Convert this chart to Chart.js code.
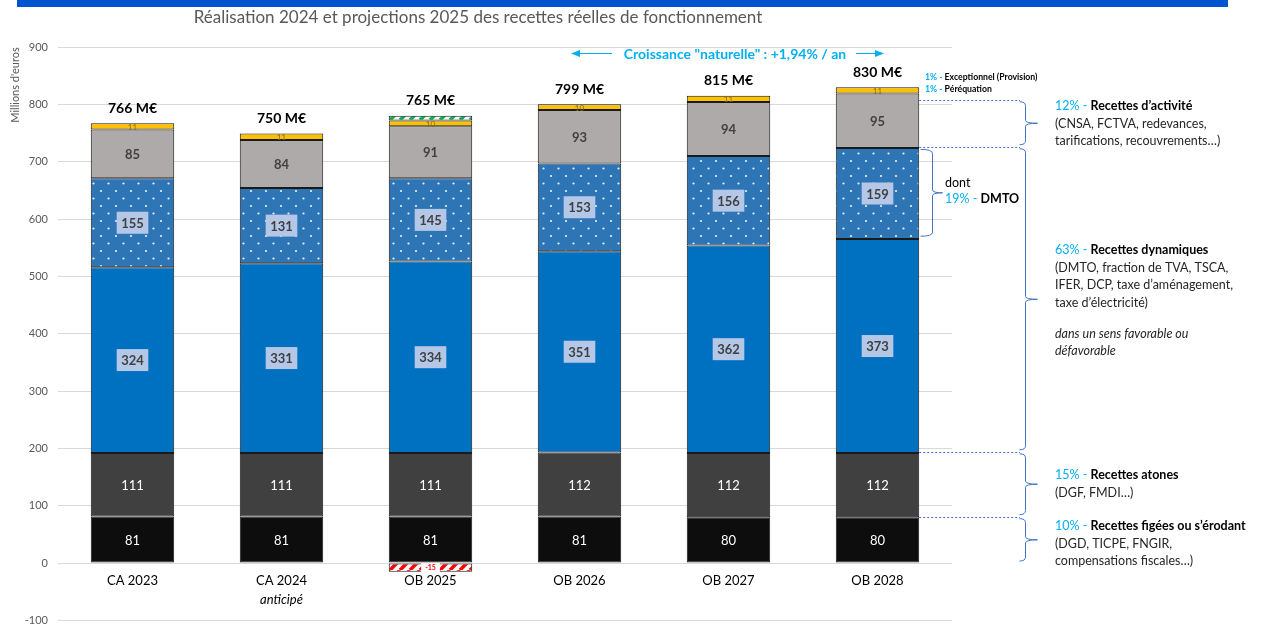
<!DOCTYPE html>
<html lang="fr">
<head>
<meta charset="utf-8">
<script src="https://cdn.jsdelivr.net/npm/chart.js@4.4.1/dist/chart.umd.min.js"></script>
<style>
  html, body { margin: 0; padding: 0; background: #fff; overflow: hidden; }
  #wrap { position: relative; width: 1265px; height: 624px; overflow: hidden; }
  #chart { display: block; }
</style>
</head>
<body>
<div id="wrap"><canvas id="chart" width="1265" height="637"></canvas></div>
<script>
// Recettes réelles de fonctionnement, M€, empilées du bas vers le haut
const categories = ["CA 2023", "CA 2024", "OB 2025", "OB 2026", "OB 2027", "OB 2028"];
const subLabels = ["", "anticipé", "", "", "", ""];
const figees = [81, 81, 81, 81, 80, 80];
const atones = [111, 111, 111, 112, 112, 112];
const dynamiques = [324, 331, 334, 351, 362, 373];
const dmto = [155, 131, 145, 153, 156, 159];
const activite = [85, 84, 91, 93, 94, 95];
const perequation = [11, 11, 10, 10, 11, 11];
const exceptionnelPos = [null, null, 8, null, null, null];
const exceptionnelNeg = [null, null, -15, null, null, null];
const totals = [766, 750, 765, 799, 815, 830];
const yTicks = [-100, 0, 100, 200, 300, 400, 500, 600, 700, 800, 900];
// limites des accolades de droite (M€)
const braceBounds = [0, 81, 194, 726, 808];
const dmtoBounds = [570, 724];

const FONT = "Lato, 'Open Sans', sans-serif";
const CYAN = "#00b0f0";
const BRACE = "#4472c4";

function pattern(size, draw) {
  const c = document.createElement("canvas");
  c.width = size; c.height = size;
  const g = c.getContext("2d");
  draw(g, size);
  return document.getElementById("chart").getContext("2d").createPattern(c, "repeat");
}
function stripes(color) {
  return pattern(10, (g, s) => {
    g.fillStyle = "#fff"; g.fillRect(0, 0, s, s);
    g.strokeStyle = color; g.lineWidth = 3.6;
    for (const o of [-s, 0, s]) {
      g.beginPath(); g.moveTo(o, s); g.lineTo(o + s, 0); g.stroke();
    }
  });
}
const dots = pattern(15, (g, s) => {
  g.fillStyle = "#2e75b6"; g.fillRect(0, 0, s, s);
  g.fillStyle = "rgba(255,255,255,0.9)";
  for (const [x, y] of [[3.5, 3.5], [11, 11]]) {
    g.beginPath(); g.arc(x, y, 1.1, 0, Math.PI * 2); g.fill();
  }
});

function ds(label, data, bg, lbl) {
  return { label, data, backgroundColor: bg, borderColor: "#1a1a1a", borderWidth: 1,
    borderSkipped: false, barPercentage: 0.56, categoryPercentage: 1, lbl };
}

function richText(ctx, x, y, parts) {
  let cx = x;
  for (const [t, font, color] of parts) {
    ctx.font = font; ctx.fillStyle = color;
    ctx.fillText(t, cx, y);
    cx += ctx.measureText(t).width;
  }
}

function brace(ctx, x, top, bottom, inward, tip) {
  const mid = (top + bottom) / 2;
  ctx.beginPath();
  ctx.moveTo(x - inward, top);
  ctx.quadraticCurveTo(x, top, x, top + 4);
  ctx.lineTo(x, mid - 3);
  ctx.quadraticCurveTo(x, mid, x + tip, mid);
  ctx.moveTo(x + tip, mid);
  ctx.quadraticCurveTo(x, mid, x, mid + 3);
  ctx.lineTo(x, bottom - 4);
  ctx.quadraticCurveTo(x, bottom, x - inward, bottom);
  ctx.stroke();
}

const labelsPlugin = {
  id: "segmentLabels",
  afterDatasetsDraw(chart) {
    const ctx = chart.ctx;
    ctx.save();
    ctx.textAlign = "center"; ctx.textBaseline = "middle";
    chart.data.datasets.forEach((d, i) => {
      const meta = chart.getDatasetMeta(i);
      meta.data.forEach((bar, j) => {
        const v = d.data[j];
        if (v === null || !d.lbl) return;
        const cy = (bar.y + bar.base) / 2;
        const t = String(v);
        if (d.lbl === "white") {
          ctx.font = "13px " + FONT; ctx.fillStyle = "#fff";
          ctx.fillText(t, bar.x, cy + 1);
        } else if (d.lbl === "box") {
          ctx.font = "bold 13px " + FONT;
          const w = ctx.measureText(t).width + 9;
          ctx.fillStyle = "#b4c7e7"; ctx.fillRect(bar.x - w / 2, cy - 11, w, 22);
          ctx.fillStyle = "#404040"; ctx.fillText(t, bar.x, cy + 1);
        } else if (d.lbl === "dark") {
          ctx.font = "bold 13px " + FONT; ctx.fillStyle = "#404040";
          ctx.fillText(t, bar.x, cy + 1);
        } else if (d.lbl === "tiny") {
          ctx.font = "8px " + FONT; ctx.fillStyle = "#7f6a2a";
          ctx.fillText(t, bar.x, cy + 1);
        } else if (d.lbl === "neg") {
          ctx.font = "bold 7px " + FONT;
          const w = ctx.measureText(t).width + 8;
          ctx.fillStyle = "#fff"; ctx.fillRect(bar.x - w / 2, cy - 4.5, w, 10);
          ctx.fillStyle = "#ff0000"; ctx.fillText(t, bar.x, cy + 0.5);
        }
      });
    });
    // totaux au-dessus de chaque colonne
    const ys = chart.scales.y, xs = chart.scales.x;
    totals.forEach((t, j) => {
      let top = 0;
      chart.data.datasets.forEach(d => { if (d.data[j] > 0) top += d.data[j]; });
      ctx.font = "bold 14px " + FONT; ctx.fillStyle = "#000";
      ctx.fillText(t + " M€", xs.getPixelForValue(j), ys.getPixelForValue(top) - 15);
    });
    ctx.restore();
  },
  afterDraw(chart) {
    const ctx = chart.ctx;
    const ys = chart.scales.y, xs = chart.scales.x;
    ctx.save();
    // bandeau
    ctx.fillStyle = "#0054d2"; ctx.fillRect(17, 0, 1211, 7);
    // titre
    ctx.textAlign = "center"; ctx.textBaseline = "middle";
    ctx.font = "17px " + FONT; ctx.fillStyle = "#595959";
    ctx.fillText("Réalisation 2024 et projections 2025 des recettes réelles de fonctionnement", 478, 18);
    // titre de l'axe
    ctx.save();
    ctx.translate(15, 85); ctx.rotate(-Math.PI / 2);
    ctx.font = "11px " + FONT; ctx.fillStyle = "#595959";
    ctx.fillText("Millions d'euros", 0, 0);
    ctx.restore();
    // catégories
    categories.forEach((c, j) => {
      const x = xs.getPixelForValue(j);
      ctx.font = "13px " + FONT; ctx.fillStyle = "#000";
      ctx.fillText(c, x, 581);
      if (subLabels[j]) {
        ctx.font = "italic 13px " + FONT;
        ctx.fillText(subLabels[j], x, 600);
      }
    });
    // croissance naturelle
    ctx.font = "bold 14px " + FONT; ctx.fillStyle = CYAN;
    ctx.fillText("Croissance \"naturelle\" : +1,94% / an", 735, 54);
    ctx.strokeStyle = CYAN; ctx.lineWidth = 1;
    ctx.beginPath(); ctx.moveTo(612, 53.5); ctx.lineTo(578, 53.5);
    ctx.moveTo(856, 53.5); ctx.lineTo(878, 53.5); ctx.stroke();
    ctx.beginPath(); ctx.moveTo(571, 53.5); ctx.lineTo(580, 50); ctx.lineTo(580, 57); ctx.fill();
    ctx.beginPath(); ctx.moveTo(884, 53.5); ctx.lineTo(875, 50); ctx.lineTo(875, 57); ctx.fill();

    // petite légende du haut
    ctx.textAlign = "left";
    richText(ctx, 925, 77, [["1% - ", "bold 8.7px " + FONT, CYAN], ["Exceptionnel (Provision)", "bold 8.7px " + FONT, "#000"]]);
    richText(ctx, 925, 89, [["1% - ", "bold 8.7px " + FONT, CYAN], ["Péréquation", "bold 8.7px " + FONT, "#000"]]);

    // pointillés et accolades
    const lastBar = chart.getDatasetMeta(0).data[5];
    const barRight = lastBar.x + lastBar.width / 2;
    ctx.strokeStyle = BRACE; ctx.lineWidth = 1;
    ctx.setLineDash([2, 2]);
    ctx.beginPath();
    braceBounds.slice(1).forEach(v => {
      const y = Math.round(ys.getPixelForValue(v)) + 0.5;
      ctx.moveTo(barRight, y); ctx.lineTo(1020, y);
    });
    ctx.stroke();
    ctx.setLineDash([]);
    for (let k = 0; k < braceBounds.length - 1; k++) {
      const top = ys.getPixelForValue(braceBounds[k + 1]) + 2;
      const bot = ys.getPixelForValue(braceBounds[k]) - 2;
      brace(ctx, 1025.5, top, bot, 6, 12);
    }
    brace(ctx, 932.5, ys.getPixelForValue(dmtoBounds[1]) + 1.5, ys.getPixelForValue(dmtoBounds[0]), 12, 10);

    // textes des catégories de recettes
    const n = "12.5px " + FONT, b = "bold 12.5px " + FONT, it = "italic 12.5px " + FONT;
    richText(ctx, 945, 183, [["dont", n, "#000"]]);
    richText(ctx, 945, 199, [["19% - ", n, CYAN], ["DMTO", b, "#000"]]);
    const blocks = [
      [106, "12% - ", "Recettes d’activité", ["(CNSA, FCTVA, redevances,", "tarifications, recouvrements…)"]],
      [250, "63% - ", "Recettes dynamiques", ["(DMTO, fraction de TVA, TSCA,", "IFER, DCP, taxe d’aménagement,", "taxe d’électricité)"]],
      [475, "15% - ", "Recettes atones", ["(DGF, FMDI…)"]],
      [526, "10% - ", "Recettes figées ou s’érodant", ["(DGD, TICPE, FNGIR,", "compensations fiscales…)"]]
    ];
    blocks.forEach(([y, pct, head, lines]) => {
      richText(ctx, 1055, y, [[pct, n, CYAN], [head, b, "#000"]]);
      lines.forEach((l, k) => richText(ctx, 1055, y + 17.5 * (k + 1), [[l, n, "#262626"]]));
    });
    richText(ctx, 1055, 334, [["dans un sens favorable ou", it, "#262626"]]);
    richText(ctx, 1055, 351, [["défavorable", it, "#262626"]]);
    ctx.restore();
  }
};

new Chart(document.getElementById("chart"), {
  type: "bar",
  data: {
    labels: categories,
    datasets: [
      ds("Recettes figées ou s'érodant", figees, "#0d0d0d", "white"),
      ds("Recettes atones", atones, "#404040", "white"),
      ds("Recettes dynamiques", dynamiques, "#0070c0", "box"),
      ds("DMTO", dmto, dots, "box"),
      ds("Recettes d'activité", activite, "#aeaaaa", "dark"),
      ds("Péréquation", perequation, "#ffc000", "tiny"),
      ds("Exceptionnel (Provision)", exceptionnelPos, stripes("#00b050"), null),
      ds("Exceptionnel (reprise)", exceptionnelNeg, stripes("#ff0000"), "neg")
    ]
  },
  options: {
    responsive: false,
    animation: false,
    layout: { padding: { left: 0, right: 313, top: 47, bottom: 4 } },
    plugins: { legend: { display: false }, tooltip: { enabled: false } },
    scales: {
      x: { stacked: true, display: false },
      y: {
        stacked: true, min: -100, max: 900,
        afterFit(s) { s.width = 58; },
        afterBuildTicks(s) { s.ticks = yTicks.map(v => ({ value: v })); },
        border: { display: false },
        grid: { color: "#d9d9d9", drawTicks: false },
        ticks: { color: "#595959", font: { family: FONT, size: 11 }, padding: 10 }
      }
    }
  },
  plugins: [labelsPlugin]
});
</script>
</body>
</html>
